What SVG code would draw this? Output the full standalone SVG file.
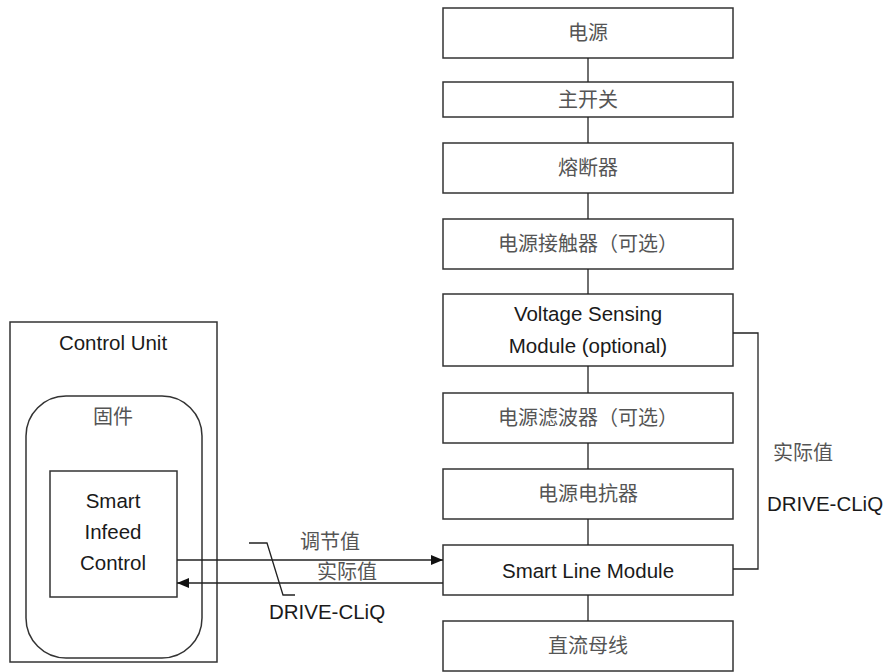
<svg xmlns="http://www.w3.org/2000/svg" width="888" height="672" viewBox="0 0 888 672">
<defs>
<style>
.box{fill:#fff;stroke:#333;stroke-width:1.5}
.ln{fill:none;stroke:#222;stroke-width:1.3}
.en{font-family:"Liberation Sans",Arial,sans-serif;font-size:20.5px;fill:#1a1a1a;text-anchor:middle;dominant-baseline:central}
.cn{font-family:"Liberation Sans","Noto Sans CJK SC",sans-serif;font-size:20px;fill:#555;text-anchor:middle;dominant-baseline:central}
</style>
<marker id="ah" viewBox="0 0 12 10" refX="12" refY="5" markerWidth="12" markerHeight="10" markerUnits="userSpaceOnUse" orient="auto">
<path d="M0,0 L12,5 L0,10 Z" fill="#111"/>
</marker>
</defs>
<rect width="888" height="672" fill="#fff"/>
<g id="n1"><rect class="box" x="443" y="8" width="290" height="50"/><text class="cn" x="588" y="33">电源</text></g>
<g id="n2"><rect class="box" x="443" y="82" width="290" height="35"/><text class="cn" x="588" y="99.5">主开关</text></g>
<g id="n3"><rect class="box" x="443" y="143" width="290" height="50"/><text class="cn" x="588" y="168">熔断器</text></g>
<g id="n4"><rect class="box" x="443" y="219" width="290" height="50"/><text class="cn" x="588" y="244">电源接触器（可选）</text></g>
<g id="n5"><rect class="box" x="443" y="294" width="290" height="72"/><text class="en" x="588" y="313">Voltage Sensing</text><text class="en" x="588" y="345">Module (optional)</text></g>
<g id="n6"><rect class="box" x="443" y="393" width="290" height="50"/><text class="cn" x="588" y="418">电源滤波器（可选）</text></g>
<g id="n7"><rect class="box" x="443" y="469" width="290" height="50"/><text class="cn" x="588" y="494">电源电抗器</text></g>
<g id="n8"><rect class="box" x="443" y="545" width="290" height="50"/><text class="en" x="588" y="570">Smart Line Module</text></g>
<g id="n9"><rect class="box" x="443" y="621" width="290" height="50"/><text class="cn" x="588" y="646">直流母线</text></g>
<g id="controlUnit"><rect class="box" x="10" y="322" width="207" height="340"/><text class="en" x="113" y="342">Control Unit</text></g>
<g id="firmware"><rect class="box" x="26" y="396" width="176" height="262" rx="40" ry="40"/><text class="cn" x="113" y="417">固件</text></g>
<g id="sic"><rect class="box" x="50" y="471" width="127" height="126"/><text class="en" x="113" y="500">Smart</text><text class="en" x="113" y="531">Infeed</text><text class="en" x="113" y="562">Control</text></g>
<g id="connectors">
<line class="ln" x1="588" y1="58" x2="588" y2="82"/>
<line class="ln" x1="588" y1="117" x2="588" y2="143"/>
<line class="ln" x1="588" y1="193" x2="588" y2="219"/>
<line class="ln" x1="588" y1="269" x2="588" y2="294"/>
<line class="ln" x1="588" y1="366" x2="588" y2="393"/>
<line class="ln" x1="588" y1="443" x2="588" y2="469"/>
<line class="ln" x1="588" y1="519" x2="588" y2="545"/>
<line class="ln" x1="588" y1="595" x2="588" y2="621"/>
<polyline class="ln" points="733,333 758,333 758,569 733,569"/>
<line class="ln" x1="177" y1="560" x2="443" y2="560" marker-end="url(#ah)"/>
<line class="ln" x1="443" y1="583" x2="177" y2="583" marker-end="url(#ah)"/>
<polyline class="ln" points="249,543 267,543 283,595 295,595"/>
<text class="cn" x="330" y="542">调节值</text>
<text class="cn" x="347" y="572">实际值</text>
<text class="en" x="327" y="611">DRIVE-CLiQ</text>
<text class="cn" x="803" y="453">实际值</text>
<text class="en" x="825" y="503">DRIVE-CLiQ</text>
</g>
</svg>
